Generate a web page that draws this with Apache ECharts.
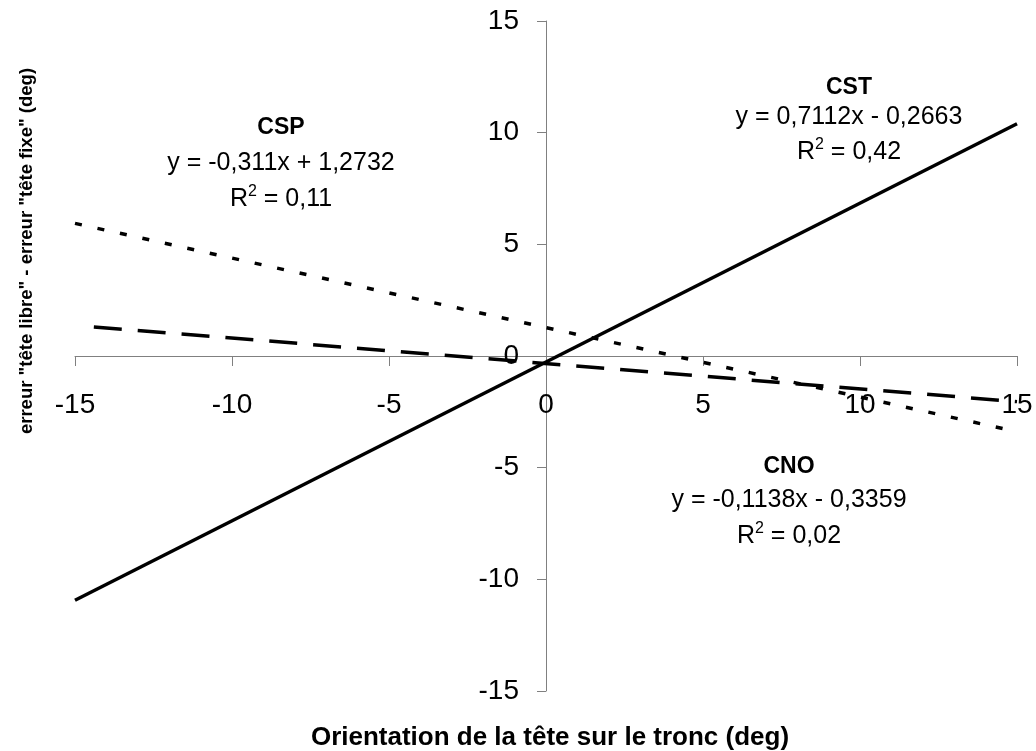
<!DOCTYPE html>
<html>
<head>
<meta charset="utf-8">
<script src="https://cdn.jsdelivr.net/npm/echarts@6/dist/echarts.min.js"></script>
<style>
  html, body { margin: 0; padding: 0; background: #ffffff; }
  #chart { width: 1036px; height: 751px; }
</style>
</head>
<body>
<div id="chart"></div>
<script>
// Linear fits per group (value = slope * orientation + intercept)
const groupNames = ['CST', 'CSP', 'CNO'];
const slopes = [0.7112, -0.311, -0.1138];
const intercepts = [-0.2663, 1.2732, -0.3359];
const rSquared = [0.42, 0.11, 0.02];
// Range of orientation covered by each fitted line
const xStarts = [-15, -15, -14.4];
const xEnds = [15, 15, 15];
// Axis ticks (deg)
const axisTicks = [-15, -10, -5, 0, 5, 10, 15];

const xTitle = 'Orientation de la tête sur le tronc (deg)';
const yTitle = 'erreur "tête libre" - erreur "tête fixe" (deg)';

const FONT = '"Liberation Sans", Arial, sans-serif';
const AXIS_GREY = '#808080';

// Plot box
const W = 1036, H = 751;
const GRID = { left: 75, right: 19, top: 21, bottom: 60 };
const AX_MIN = axisTicks[0], AX_MAX = axisTicks[axisTicks.length - 1];
const plotW = W - GRID.left - GRID.right;
const plotH = H - GRID.top - GRID.bottom;
// Shift both axes so they cross at the origin
const xAxisOffset = -plotH * (0 - AX_MIN) / (AX_MAX - AX_MIN);
const yAxisOffset = -plotW * (0 - AX_MIN) / (AX_MAX - AX_MIN);

function frNum(v) {
  return String(Math.abs(v)).replace('.', ',');
}
function equationText(a, b) {
  return 'y = ' + (a < 0 ? '-' : '') + frNum(a) + 'x ' + (b < 0 ? '- ' : '+ ') + frNum(b);
}

const lineStyles = [
  { color: '#000', width: 3.5, type: 'solid' },
  { color: '#000', width: 3.5, type: [7, 16], cap: 'butt' },
  { color: '#000', width: 3.5, type: [28, 16], cap: 'butt' }
];

const series = groupNames.map((name, i) => ({
  name: name,
  type: 'line',
  symbol: 'none',
  silent: true,
  animation: false,
  z: 3 - i,
  lineStyle: lineStyles[i],
  data: [
    [xStarts[i], slopes[i] * xStarts[i] + intercepts[i]],
    [xEnds[i], slopes[i] * xEnds[i] + intercepts[i]]
  ]
}));

// Text block placement (pixel centres of the three lines of each block)
const blockPos = [
  { x: 849, y: [88, 117, 151] },
  { x: 281, y: [128, 163, 198] },
  { x: 789, y: [467, 500, 535] }
];

const annotations = [];
groupNames.forEach((name, i) => {
  const p = blockPos[i];
  annotations.push({
    type: 'text', x: p.x, y: p.y[0], silent: true,
    style: { text: name, font: 'bold 23px ' + FONT, fill: '#000', textAlign: 'center', textVerticalAlign: 'middle' }
  });
  annotations.push({
    type: 'text', x: p.x, y: p.y[1], silent: true,
    style: { text: equationText(slopes[i], intercepts[i]), font: '25px ' + FONT, fill: '#000', textAlign: 'center', textVerticalAlign: 'middle' }
  });
  annotations.push({
    type: 'text', x: p.x, y: p.y[2], silent: true,
    style: {
      text: '{n|R}{s|2}{n| = ' + frNum(rSquared[i]) + '}',
      textAlign: 'center', textVerticalAlign: 'middle',
      rich: {
        n: { fontSize: 25, fontFamily: FONT, color: '#000', lineHeight: 28, verticalAlign: 'bottom' },
        s: { fontSize: 16, fontFamily: FONT, color: '#000', lineHeight: 16, verticalAlign: 'top' }
      }
    }
  });
});

const chart = echarts.init(document.getElementById('chart'), null, { renderer: 'canvas' });

const axisCommon = {
  type: 'value',
  min: AX_MIN,
  max: AX_MAX,
  interval: 5,
  axisLine: { show: true, onZero: false, lineStyle: { color: AXIS_GREY, width: 1 } },
  axisTick: { show: true, inside: false, length: 10, lineStyle: { color: AXIS_GREY, width: 1 } },
  splitLine: { show: false },
  axisLabel: { color: '#000', fontSize: 28, fontFamily: FONT, showMinLabel: true, showMaxLabel: true }
};

chart.setOption({
  animation: false,
  backgroundColor: '#ffffff',
  grid: { left: GRID.left, right: GRID.right, top: GRID.top, bottom: GRID.bottom, containLabel: false },
  xAxis: Object.assign({}, axisCommon, {
    position: 'bottom',
    offset: xAxisOffset,
    axisLabel: Object.assign({}, axisCommon.axisLabel, { margin: 35 })
  }),
  yAxis: Object.assign({}, axisCommon, {
    position: 'left',
    offset: yAxisOffset,
    axisTick: Object.assign({}, axisCommon.axisTick, { length: 9 }),
    axisLabel: Object.assign({}, axisCommon.axisLabel, { margin: 27 })
  }),
  series: series,
  graphic: annotations.concat([
    {
      type: 'text', x: 550, y: 738, silent: true,
      style: { text: xTitle, font: 'bold 26px ' + FONT, fill: '#000', textAlign: 'center', textVerticalAlign: 'middle' }
    },
    {
      type: 'text', x: 27, y: 251, rotation: Math.PI / 2, silent: true,
      style: { text: yTitle, font: 'bold 18.5px ' + FONT, fill: '#000', textAlign: 'center', textVerticalAlign: 'middle' }
    }
  ])
});
</script>
</body>
</html>
